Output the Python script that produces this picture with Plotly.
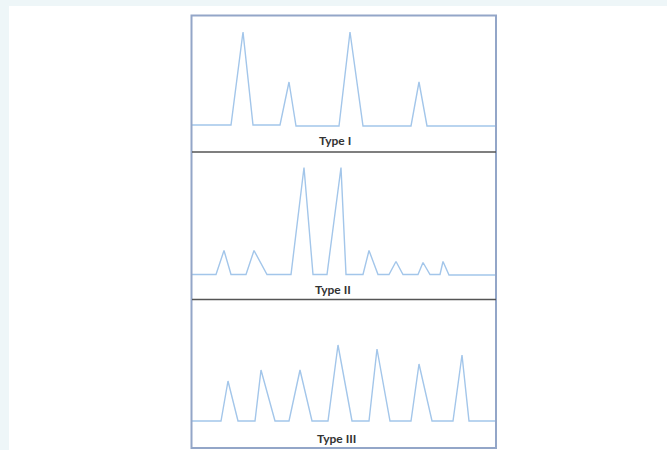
import plotly.graph_objects as go

W, H = 667, 450

# Data (x in arbitrary time units, y = signal height above baseline)
type1_x = [0, 39, 51, 61, 88, 97, 104, 147, 158, 171, 219, 227, 235, 303]
type1_y = [0, 0, 93, 0, 0, 43, -1, -1, 93, -1, -1, 43, -1, -1]

type2_x = [0, 24, 32, 39, 54, 62, 75, 99, 112, 121, 135, 149, 154, 171, 177, 186,
           197, 204, 211, 226, 231, 238, 248, 251, 257, 303]
type2_y = [0, 0, 24, 0, 0, 24, 0, 0, 107, 0, 0, 107, 0, 0, 24, 0,
           0, 13, 0, 0, 12, 0, 0, 13, -0.5, -0.5]

type3_x = [0, 29, 36, 46, 63, 69, 83, 97, 108, 120, 136, 146, 160, 177, 185, 198,
           219, 227, 240, 261, 270, 277, 303]
type3_y = [0, 0, 40, 0, 0, 51, 0, 0, 51, 0, 0, 76, 0, 0, 72, 0,
           0, 57, 0, 0, 66, 0, 0]

labels = ["Type I", "Type II", "Type III"]

def px(x):
    return x / W

def py(y):
    return 1 - y / H

# panel geometry in pixels: (top, bottom, baseline, label_x, label_y)
panels = [(16, 151, 125, 335, 140), (153, 298, 274.5, 333, 289),
          (300, 447, 421, 336, 438)]
series = [(type1_x, type1_y), (type2_x, type2_y), (type3_x, type3_y)]

fig = go.Figure()
line_color = "#a3c6ea"

for i, ((xs, ys), (t, b, base, lx, ly)) in enumerate(zip(series, panels)):
    n = "" if i == 0 else str(i + 1)
    fig.add_trace(go.Scatter(x=xs, y=ys, mode="lines",
                             line=dict(color=line_color, width=1.4),
                             xaxis="x" + n, yaxis="y" + n, showlegend=False,
                             hoverinfo="skip"))
    fig.layout["xaxis" + n] = dict(domain=[px(192), px(495)], range=[0, 303],
                                   visible=False, fixedrange=True,
                                   anchor="y" + n)
    fig.layout["yaxis" + n] = dict(domain=[py(b), py(t)],
                                   range=[-(b - base), base - t],
                                   visible=False, fixedrange=True,
                                   anchor="x" + n)
    fig.add_annotation(text="<b>%s</b>" % labels[i], x=px(lx), y=py(ly),
                       xref="paper", yref="paper", showarrow=False,
                       font=dict(family="Lato", size=12, color="#333333"),
                       xanchor="center", yanchor="middle")

shapes = [
    # outer light background strips
    dict(type="rect", xref="paper", yref="paper", x0=0, x1=1, y0=py(6), y1=1,
         fillcolor="#eef6f8", line=dict(width=0), layer="below"),
    dict(type="rect", xref="paper", yref="paper", x0=0, x1=px(9), y0=0, y1=1,
         fillcolor="#eef6f8", line=dict(width=0), layer="below"),
    # frame
    dict(type="rect", xref="paper", yref="paper", x0=px(191.5), x1=px(496),
         y0=py(448), y1=py(15.5), line=dict(color="#93a6c8", width=2)),
    # separators
    dict(type="line", xref="paper", yref="paper", x0=px(192), x1=px(496),
         y0=py(152), y1=py(152), line=dict(color="#555555", width=1.5)),
    dict(type="line", xref="paper", yref="paper", x0=px(192), x1=px(496),
         y0=py(299.5), y1=py(299.5), line=dict(color="#555555", width=1.5)),
]

fig.update_layout(width=W, height=H, margin=dict(l=0, r=0, t=0, b=0),
                  paper_bgcolor="white", plot_bgcolor="rgba(0,0,0,0)",
                  shapes=shapes)

fig.write_html("out.html", config={"displayModeBar": False})
